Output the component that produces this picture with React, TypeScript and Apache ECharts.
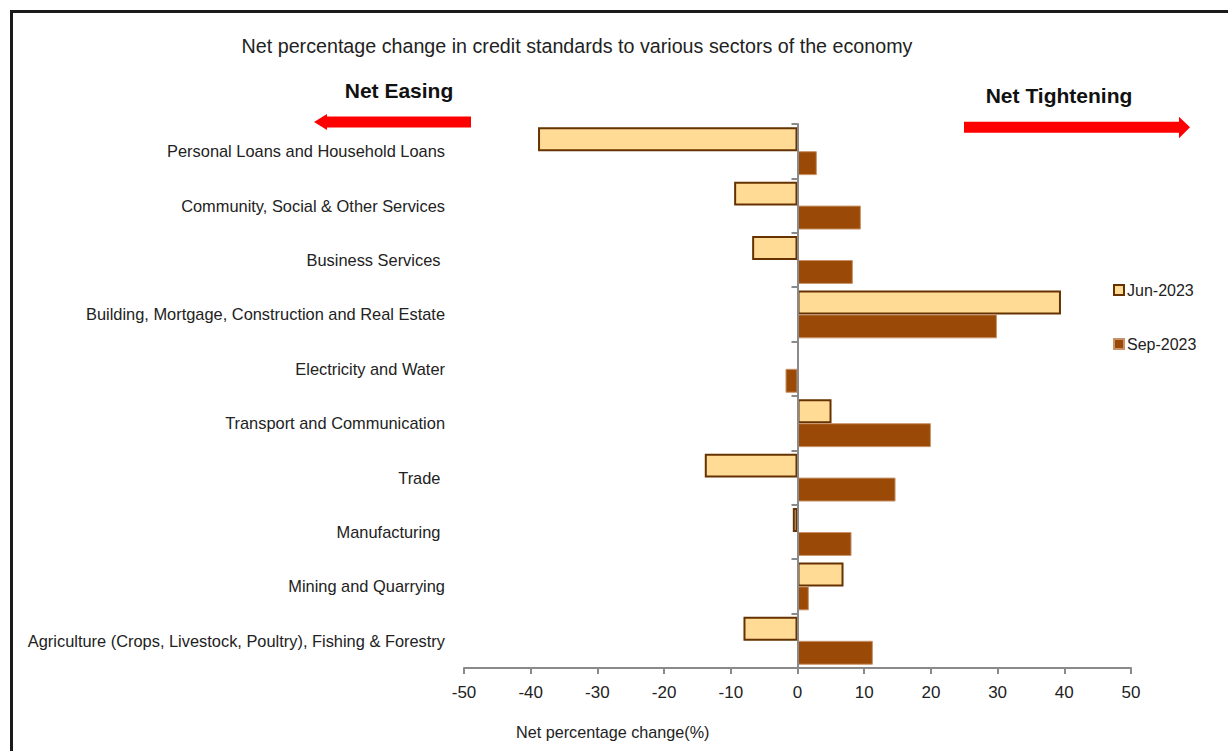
import React, { useEffect, useRef } from "react";
import * as echarts from "echarts";

const categories = [
  "Personal Loans and Household Loans",
  "Community, Social & Other Services",
  "Business Services ",
  "Building, Mortgage, Construction and Real Estate",
  "Electricity and Water",
  "Transport and Communication",
  "Trade ",
  "Manufacturing ",
  "Mining and Quarrying",
  "Agriculture (Crops, Livestock, Poultry), Fishing & Forestry",
];
const jun2023 = [-38.9, -9.5, -6.8, 39.5, 0, 5.1, -13.9, -0.7, 6.9, -8.1];
const sep2023 = [2.9, 9.5, 8.3, 29.9, -1.8, 20.0, 14.7, 8.1, 1.7, 11.3];
const seriesNames = ["Jun-2023", "Sep-2023"];

const FONT = "'Liberation Sans', Arial, sans-serif";

const toData = (arr: number[]) =>
  arr.map((v) => (v === 0 ? { value: v, itemStyle: { borderWidth: 0 } } : v));

export default function App() {
  const ref = useRef<HTMLDivElement>(null);
  useEffect(() => {
    if (!ref.current) return;
    const chart = echarts.init(ref.current, null, { renderer: "svg" });
    chart.setOption({
      animation: false,
      backgroundColor: "#ffffff",
      grid: {
        left: 464,
        right: 97,
        top: 124,
        bottom: 83,
        containLabel: false,
        outerBoundsMode: "none",
      },
      legend: {
        orient: "vertical",
        left: 1113,
        top: 282,
        padding: 0,
        itemGap: 38,
        itemWidth: 10,
        itemHeight: 10,
        icon: "rect",
        textStyle: { fontFamily: FONT, fontSize: 16, color: "#222", padding: [0, 0, 0, -2] },
        data: seriesNames,
      },
      xAxis: {
        type: "value",
        min: -50,
        max: 50,
        interval: 10,
        splitLine: { show: false },
        axisLine: { show: true, onZero: false, lineStyle: { color: "#8a8a8a", width: 2 } },
        axisTick: { show: true, length: 6, lineStyle: { color: "#8a8a8a", width: 2 } },
        axisLabel: { fontFamily: FONT, fontSize: 17, color: "#222", margin: 16 },
      },
      yAxis: [
        {
          type: "category",
          data: categories,
          inverse: true,
          position: "left",
          axisLine: { show: false, onZero: false },
          axisTick: { show: false },
          axisLabel: { fontFamily: FONT, fontSize: 16.4, color: "#222", margin: 19 },
        },
        {
          type: "category",
          data: categories,
          inverse: true,
          position: "left",
          z: 5,
          axisLine: { show: true, onZero: true, lineStyle: { color: "#8a8a8a", width: 2 } },
          axisTick: { show: true, length: 6, lineStyle: { color: "#8a8a8a", width: 2 } },
          axisLabel: { show: false },
        },
      ],
      series: [
        {
          name: seriesNames[0],
          type: "bar",
          yAxisIndex: 0,
          data: toData(jun2023),
          barGap: "0%",
          barCategoryGap: "12%",
          itemStyle: { color: "#FFDB96", borderColor: "#663300", borderWidth: 2 },
        },
        {
          name: seriesNames[1],
          type: "bar",
          yAxisIndex: 0,
          data: toData(sep2023),
          barGap: "0%",
          barCategoryGap: "12%",
          itemStyle: { color: "#9A4A06", borderColor: "#C8936A", borderWidth: 1 },
        },
      ],
      graphic: [
        {
          type: "rect",
          shape: { x: 11.5, y: 11.5, width: 1400, height: 1000 },
          style: { fill: "none", stroke: "#1a1a1a", lineWidth: 3 },
          silent: true,
        },
        {
          type: "text",
          x: 577,
          y: 46,
          style: {
            text: "Net percentage change in credit standards to various sectors of the economy",
            fontFamily: FONT,
            fontSize: 19.7,
            fill: "#222",
            align: "center",
            verticalAlign: "middle",
          },
        },
        {
          type: "text",
          x: 399,
          y: 90,
          style: {
            text: "Net Easing",
            fontFamily: FONT,
            fontWeight: "bold",
            fontSize: 21,
            fill: "#111",
            align: "center",
            verticalAlign: "middle",
          },
        },
        {
          type: "text",
          x: 1059,
          y: 95,
          style: {
            text: "Net Tightening",
            fontFamily: FONT,
            fontWeight: "bold",
            fontSize: 21,
            fill: "#111",
            align: "center",
            verticalAlign: "middle",
          },
        },
        {
          type: "polygon",
          shape: {
            points: [
              [314, 122],
              [327, 114],
              [327, 116.5],
              [471, 116.5],
              [471, 127.5],
              [327, 127.5],
              [327, 130],
            ],
          },
          style: { fill: "#FF0000" },
        },
        {
          type: "polygon",
          shape: {
            points: [
              [964, 121.7],
              [1179, 121.7],
              [1179, 116.7],
              [1190, 127.2],
              [1179, 138.3],
              [1179, 132.7],
              [964, 132.7],
            ],
          },
          style: { fill: "#FF0000" },
        },
        {
          type: "text",
          x: 516,
          y: 732,
          style: {
            text: "Net percentage change(%)",
            fontFamily: FONT,
            fontSize: 16.2,
            fill: "#222",
            align: "left",
            verticalAlign: "middle",
          },
        },
      ],
    });
    return () => chart.dispose();
  }, []);
  return (
    <div
      ref={ref}
      style={{ position: "fixed", left: 0, top: 0, width: 1228, height: 751 }}
    />
  );
}
